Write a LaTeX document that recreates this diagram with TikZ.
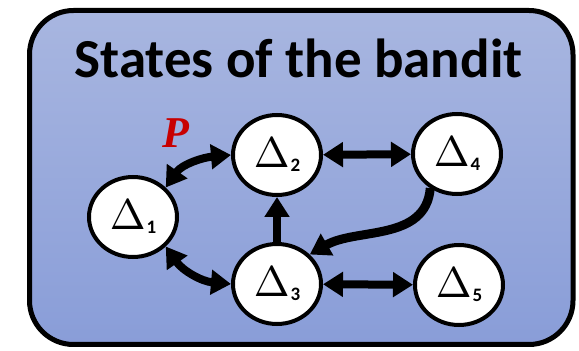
\documentclass[tikz,border=0pt]{standalone}
\usepackage{graphicx}
\usepackage{fontspec}
\setmainfont{Carlito}
\newfontfamily\pfont{Liberation Serif}
\usetikzlibrary{arrows.meta,shapes.geometric}
\definecolor{boxtop}{RGB}{168,182,224}
\definecolor{boxbot}{RGB}{137,157,216}
\definecolor{pred}{RGB}{200,0,0}
\tikzset{
  state/.style={ellipse, draw=black, line width=4pt, fill=white,
    minimum width=88pt, minimum height=80pt, inner sep=0pt},
  link/.style={line width=8pt, black,
    -{Triangle[width=24pt,length=20pt]}},
  dlink/.style={line width=8pt, black,
    {Triangle[width=24pt,length=20pt]}-{Triangle[width=24pt,length=20pt]}},
}
\newcommand{\dlab}[1]{\scalebox{4.3}{$\Delta$}\kern1pt\raisebox{-4pt}{\fontsize{19}{19}\selectfont\bfseries #1}}
\begin{document}
\begin{tikzpicture}[x=1pt,y=1pt]
\useasboundingbox (0,0) rectangle (579,351);
\fill[white] (0,0) rectangle (579,351);
\draw[line width=5pt, rounded corners=44pt, top color=boxtop, bottom color=boxbot]
  (29.5,6.5) rectangle (573,340.5);
\node[anchor=base, font=\fontsize{55}{55}\selectfont\bfseries] (title) at (298.5,273) {States of the bandit};
\node[state] (d1) at (133,134) {\dlab{1}};
\node[state] (d2) at (277,196) {\dlab{2}};
\node[state] (d3) at (277,67) {\dlab{3}};
\node[state] (d4) at (457,197) {\dlab{4}};
\node[state] (d5) at (459,66) {\dlab{5}};
\node[font=\pfont\fontsize{44}{44}\selectfont\bfseries\itshape, text=pred] (p) at (176,218) {P};
\draw[dlink] (d1.42) to[out=55,in=185] (d2.west);
\draw[dlink] (d1.-42) to[out=-55,in=175] (d3.west);
\draw[dlink] (d2) -- (d4);
\draw[dlink] (d3) -- (d5);
\draw[link] (d3.north) -- (d2.south);
\draw[link, line width=9pt] (d4.232) to[out=-95,in=30] (d3.42);
\end{tikzpicture}
\end{document}
